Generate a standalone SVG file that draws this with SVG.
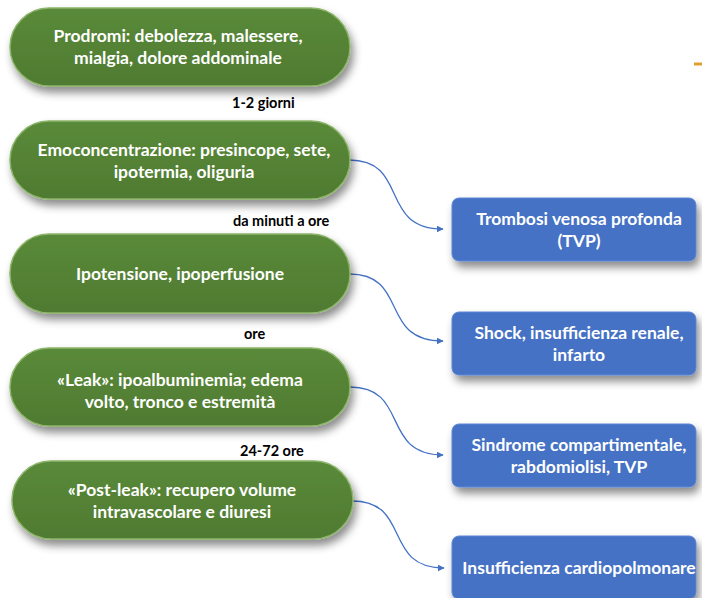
<svg xmlns="http://www.w3.org/2000/svg" width="702" height="598" viewBox="0 0 702 598">
<defs>
<filter id="sh" x="-10%" y="-20%" width="125%" height="150%">
<feDropShadow dx="3" dy="6" stdDeviation="4" flood-color="#000" flood-opacity="0.45"/>
</filter>
<linearGradient id="gg" x1="0" y1="0" x2="0" y2="1">
<stop offset="0" stop-color="#5a8a3a"/>
<stop offset="0.5" stop-color="#548235"/>
<stop offset="1" stop-color="#4f7b31"/>
</linearGradient>
<marker id="ar" viewBox="0 0 10 10" refX="9" refY="5" markerWidth="7" markerHeight="7" markerUnits="userSpaceOnUse" orient="auto">
<path d="M0,0 L10,5 L0,10 z" fill="#4472C4"/>
</marker>
<style>
.pill{fill:url(#gg);stroke:#8db56a;stroke-width:1.5;filter:url(#sh)}
.box{fill:#4472C4;stroke:#5b86d4;stroke-width:1;filter:url(#sh)}
.wt{font-family:Lato,"Open Sans",sans-serif;font-weight:bold;font-size:17.5px;fill:#fff;text-anchor:middle}
.lb{font-family:Lato,"Open Sans",sans-serif;font-weight:bold;font-size:14.5px;fill:#000}
.cn{fill:none;stroke:#4472C4;stroke-width:1.3;marker-end:url(#ar)}
</style>
</defs>
<rect width="702" height="598" fill="#fff"/>
<rect x="694" y="62.5" width="8" height="3" fill="#E0A030"/>

<g id="connectors">
<path class="cn" d="M349,160 C410,160 378,229 443,229"/>
<path class="cn" d="M349,274 C410,274 378,341 443,341"/>
<path class="cn" d="M350,387 C410,387 380,455 443,455"/>
<path class="cn" d="M352,501 C412,501 382,568 444,568"/>
</g>

<g id="n1"><rect class="pill" x="10" y="8" width="340" height="78" rx="39"/>
<text class="wt" x="178" y="42">Prodromi: debolezza, malessere,</text>
<text class="wt" x="178" y="64">mialgia, dolore addominale</text></g>
<g id="l1"><text class="lb" x="232" y="108">1-2 giorni</text></g>

<g id="n2"><rect class="pill" x="10" y="121" width="340" height="78" rx="39"/>
<text class="wt" x="184" y="156">Emoconcentrazione: presincope, sete,</text>
<text class="wt" x="184" y="178">ipotermia, oliguria</text></g>
<g id="l2"><text class="lb" x="233" y="226">da minuti a ore</text></g>

<g id="n3"><rect class="pill" x="10" y="234" width="340" height="79" rx="39"/>
<text class="wt" x="180" y="280">Ipotensione, ipoperfusione</text></g>
<g id="l3"><text class="lb" x="244" y="339">ore</text></g>

<g id="n4"><rect class="pill" x="10" y="348" width="340" height="78" rx="39"/>
<text class="wt" x="180" y="386">«Leak»: ipoalbuminemia; edema</text>
<text class="wt" x="180" y="408">volto, tronco e estremità</text></g>
<g id="l4"><text class="lb" x="240" y="456">24-72 ore</text></g>

<g id="n5"><rect class="pill" x="12" y="461" width="341" height="78" rx="39"/>
<text class="wt" x="182" y="496">«Post-leak»: recupero volume</text>
<text class="wt" x="182" y="518">intravascolare e diuresi</text></g>

<g id="b1"><rect class="box" x="452" y="198" width="244" height="63" rx="7"/>
<text class="wt" x="579" y="225">Trombosi venosa profonda</text>
<text class="wt" x="579" y="247">(TVP)</text></g>

<g id="b2"><rect class="box" x="452" y="312" width="244" height="63" rx="7"/>
<text class="wt" x="579" y="339">Shock, insufficienza renale,</text>
<text class="wt" x="579" y="361">infarto</text></g>

<g id="b3"><rect class="box" x="452" y="424" width="244" height="63" rx="7"/>
<text class="wt" x="579" y="451">Sindrome compartimentale,</text>
<text class="wt" x="579" y="473">rabdomiolisi, TVP</text></g>

<g id="b4"><rect class="box" x="452" y="536" width="244" height="63" rx="7"/>
<text class="wt" x="579" y="574">Insufficienza cardiopolmonare</text></g>
</svg>
